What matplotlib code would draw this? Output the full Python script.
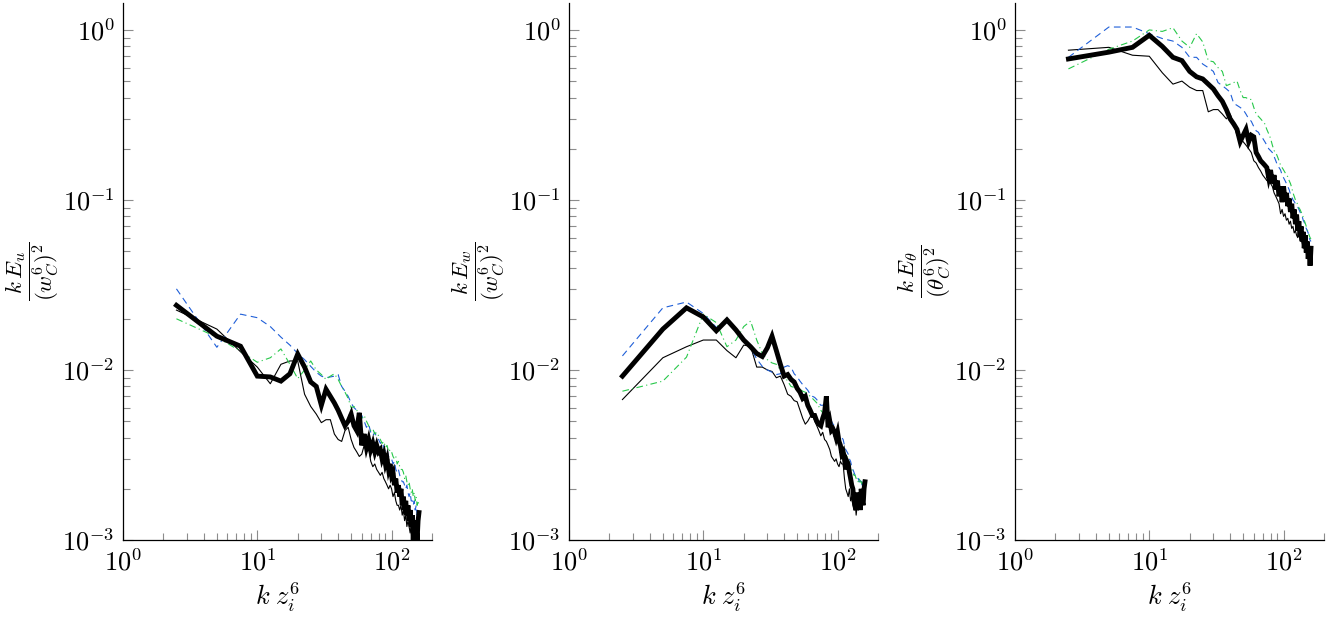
import matplotlib
matplotlib.use("Agg")
import matplotlib.pyplot as plt
import matplotlib.ticker as ticker
import numpy as np

plt.rcParams['mathtext.fontset'] = 'cm'
plt.rcParams['font.family'] = ['DejaVu Serif']

# wavenumber grid k z_i = 2.5, 5, ..., 160
k = 2.5 * np.arange(1, 65)

# panel 1 : k E_u / (w_C)^2
u_thick = [0.024, 0.0158, 0.0138, 0.0092, 0.0091, 0.0086, 0.0095, 0.0124, 0.0104, 0.0085,
           0.0080, 0.0062, 0.0077, 0.0070, 0.0064, 0.0058, 0.0052, 0.0047, 0.0050, 0.0055,
           0.0047, 0.0044, 0.0056, 0.0036, 0.0042, 0.0035, 0.0039, 0.0034, 0.0037, 0.0033,
           0.0036, 0.0033, 0.0034, 0.0030, 0.0032, 0.0028, 0.0030, 0.0026, 0.0028, 0.0024,
           0.0025, 0.0021, 0.0023, 0.0019, 0.0021, 0.0018, 0.0020, 0.0016, 0.0018, 0.0015,
           0.0017, 0.0014, 0.0016, 0.0013, 0.0015, 0.0012, 0.0014, 0.0010, 0.0013, 0.00095,
           0.0012, 0.0010, 0.0013, 0.00145]
u_thin = [0.0225, 0.0174, 0.0128, 0.0104, 0.0083, 0.0108, 0.0113, 0.0113, 0.0072, 0.0061,
          0.0055, 0.0049, 0.0051, 0.0051, 0.0042, 0.0039, 0.0038, 0.0044, 0.0046, 0.0039,
          0.0035, 0.0033, 0.0031, 0.0032, 0.0036, 0.0033, 0.0034, 0.0029, 0.0027, 0.0028,
          0.0026, 0.0025, 0.0024, 0.0025, 0.0023, 0.0022, 0.0021, 0.0020, 0.0021, 0.0020,
          0.0018, 0.0019, 0.0017, 0.0016, 0.0016, 0.0015, 0.0016, 0.0014, 0.0015, 0.0013,
          0.0014, 0.0012, 0.0013, 0.0012, 0.0011, 0.0012, 0.0010, 0.0011, 0.00095, 0.0011,
          0.0010, 0.0009, 0.00105, 0.00095]
u_blue = [0.030, 0.0136, 0.0213, 0.0203, 0.0180, 0.0156, 0.0140, 0.0125, 0.0115, 0.0105,
          0.0097, 0.0092, 0.0090, 0.0091, 0.0092, 0.0094, 0.0080, 0.0075, 0.0070, 0.0064,
          0.0060, 0.0058, 0.0056, 0.0054, 0.0050, 0.0046, 0.0048, 0.0043, 0.0041, 0.0043,
          0.0040, 0.0039, 0.0037, 0.0038, 0.0035, 0.0033, 0.0034, 0.0031, 0.0030, 0.0030,
          0.0028, 0.0029, 0.0026, 0.0025, 0.0026, 0.0024, 0.0023, 0.0022, 0.0022, 0.0021,
          0.0020, 0.0021, 0.0019, 0.0018, 0.0019, 0.0017, 0.0017, 0.0016, 0.0017, 0.0015,
          0.0016, 0.0014, 0.0015, 0.0014]
u_green = [0.020, 0.0156, 0.0129, 0.0111, 0.0118, 0.0133, 0.0108, 0.0089, 0.0100, 0.0113,
           0.0100, 0.0094, 0.0088, 0.0092, 0.0095, 0.0088, 0.0080, 0.0074, 0.0068, 0.0060,
           0.0061, 0.0058, 0.0055, 0.0052, 0.0054, 0.0050, 0.0047, 0.0044, 0.0045, 0.0042,
           0.0043, 0.0041, 0.0039, 0.0037, 0.0038, 0.0035, 0.0036, 0.0033, 0.0034, 0.0033,
           0.0031, 0.0030, 0.0031, 0.0028, 0.0029, 0.0027, 0.0026, 0.0026, 0.0025, 0.0023,
           0.0024, 0.0022, 0.0021, 0.0022, 0.0020, 0.0019, 0.0020, 0.0018, 0.0019, 0.0017,
           0.0018, 0.0016, 0.0017, 0.0016]

# panel 2 : k E_w / (w_C)^2
w_thick = [0.0092, 0.0174, 0.0232, 0.0205, 0.0170, 0.0197, 0.0172, 0.0150, 0.0137, 0.0125,
           0.0120, 0.0135, 0.0158, 0.0130, 0.0108, 0.0092, 0.0094, 0.0088, 0.0085, 0.0078,
           0.0074, 0.0068, 0.0070, 0.0062, 0.0058, 0.0054, 0.0054, 0.0050, 0.0048, 0.0047,
           0.0052, 0.0056, 0.0070, 0.0046, 0.0050, 0.0044, 0.0045, 0.0043, 0.0040, 0.0043,
           0.0038, 0.0036, 0.0032, 0.0033, 0.0030, 0.0026, 0.0029, 0.0028, 0.0025, 0.0023,
           0.0021, 0.0020, 0.0017, 0.0016, 0.0015, 0.0019, 0.0016, 0.0018, 0.0015, 0.0020,
           0.0017, 0.0016, 0.0020, 0.0022]
w_thin = [0.0067, 0.0118, 0.0137, 0.0150, 0.0150, 0.0130, 0.0118, 0.0140, 0.0138, 0.0104,
          0.0104, 0.0100, 0.0098, 0.0090, 0.0092, 0.0082, 0.0072, 0.0070, 0.0066, 0.0065,
          0.0058, 0.0052, 0.0048, 0.0050, 0.0053, 0.0054, 0.0050, 0.0047, 0.0044, 0.0041,
          0.0043, 0.0039, 0.0038, 0.0036, 0.0034, 0.0031, 0.0030, 0.0029, 0.0030, 0.0028,
          0.0027, 0.0029, 0.0028, 0.0028, 0.0023, 0.0020, 0.0019, 0.0018, 0.0020, 0.0017,
          0.0018, 0.0016, 0.0015, 0.0017, 0.0014, 0.0016, 0.0015, 0.0017, 0.0016, 0.0018,
          0.0016, 0.0019, 0.0017, 0.0020]
w_blue = [0.0121, 0.0232, 0.0251, 0.0215, 0.0178, 0.0190, 0.0170, 0.0152, 0.0135, 0.0116,
          0.0105, 0.0100, 0.0097, 0.0094, 0.0095, 0.0104, 0.0106, 0.0104, 0.0095, 0.0091,
          0.0086, 0.0082, 0.0079, 0.0076, 0.0072, 0.0070, 0.0069, 0.0067, 0.0064, 0.0062,
          0.0062, 0.0063, 0.0058, 0.0055, 0.0052, 0.0050, 0.0048, 0.0047, 0.0045, 0.0043,
          0.0042, 0.0041, 0.0040, 0.0039, 0.0036, 0.0034, 0.0033, 0.0032, 0.0030, 0.0029,
          0.0027, 0.0026, 0.0025, 0.0024, 0.0024, 0.0023, 0.0023, 0.0022, 0.0022, 0.0023,
          0.0021, 0.0022, 0.0020, 0.0021]
w_green = [0.0075, 0.0086, 0.0119, 0.0213, 0.0190, 0.0137, 0.0150, 0.0180, 0.0194, 0.0150,
           0.0125, 0.0115, 0.0110, 0.0108, 0.0100, 0.0092, 0.0086, 0.0080, 0.0079, 0.0078,
           0.0077, 0.0075, 0.0074, 0.0072, 0.0070, 0.0068, 0.0066, 0.0064, 0.0061, 0.0058,
           0.0056, 0.0054, 0.0052, 0.0050, 0.0049, 0.0048, 0.0046, 0.0045, 0.0043, 0.0041,
           0.0039, 0.0038, 0.0036, 0.0035, 0.0033, 0.0032, 0.0031, 0.0030, 0.0028, 0.0027,
           0.0026, 0.0025, 0.0024, 0.0024, 0.0023, 0.0023, 0.0022, 0.0023, 0.0022, 0.0022,
           0.0021, 0.0022, 0.0021, 0.0021]

# panel 3 : k E_theta / (theta_C)^2
t_thick = [0.675, 0.74, 0.79, 0.93, 0.80, 0.69, 0.66, 0.57, 0.53, 0.515,
           0.48, 0.45, 0.41, 0.38, 0.34, 0.30, 0.28, 0.26, 0.22, 0.24,
           0.26, 0.22, 0.24, 0.235, 0.19, 0.18, 0.17, 0.165, 0.16, 0.155,
           0.135, 0.15, 0.125, 0.14, 0.115, 0.13, 0.105, 0.12, 0.097, 0.12,
           0.10, 0.11, 0.092, 0.102, 0.085, 0.095, 0.078, 0.088, 0.072, 0.082,
           0.066, 0.075, 0.061, 0.070, 0.057, 0.065, 0.052, 0.062, 0.049, 0.057,
           0.045, 0.053, 0.041, 0.052]
t_thin = [0.76, 0.79, 0.71, 0.70, 0.56, 0.48, 0.50, 0.46, 0.44, 0.44,
          0.33, 0.34, 0.34, 0.32, 0.30, 0.32, 0.28, 0.24, 0.235, 0.22,
          0.21, 0.20, 0.19, 0.17, 0.165, 0.155, 0.148, 0.14, 0.135, 0.13,
          0.135, 0.125, 0.12, 0.11, 0.105, 0.10, 0.095, 0.083, 0.088, 0.08,
          0.083, 0.076, 0.078, 0.072, 0.075, 0.068, 0.070, 0.064, 0.066, 0.062,
          0.060, 0.063, 0.058, 0.060, 0.056, 0.054, 0.057, 0.052, 0.054, 0.050,
          0.052, 0.048, 0.050, 0.047]
t_blue = [0.69, 1.04, 1.04, 0.95, 0.89, 0.86, 0.79, 0.69, 0.69, 0.63,
          0.60, 0.57, 0.49, 0.47, 0.45, 0.43, 0.37, 0.36, 0.35, 0.34,
          0.32, 0.30, 0.29, 0.27, 0.255, 0.25, 0.235, 0.23, 0.22, 0.21,
          0.20, 0.195, 0.19, 0.18, 0.17, 0.16, 0.155, 0.15, 0.14, 0.135,
          0.13, 0.125, 0.12, 0.115, 0.108, 0.105, 0.10, 0.098, 0.095, 0.093,
          0.091, 0.088, 0.085, 0.082, 0.080, 0.076, 0.074, 0.070, 0.068, 0.066,
          0.064, 0.060, 0.058, 0.057]
t_green = [0.59, 0.77, 0.86, 1.00, 0.98, 1.03, 0.86, 0.79, 0.95, 0.85,
           0.66, 0.65, 0.60, 0.57, 0.47, 0.48, 0.49, 0.50, 0.44, 0.40,
           0.40, 0.39, 0.39, 0.35, 0.32, 0.31, 0.30, 0.29, 0.28, 0.26,
           0.245, 0.23, 0.21, 0.195, 0.19, 0.18, 0.17, 0.16, 0.155, 0.15,
           0.145, 0.14, 0.137, 0.13, 0.125, 0.118, 0.11, 0.105, 0.10, 0.097,
           0.094, 0.09, 0.088, 0.085, 0.083, 0.079, 0.076, 0.073, 0.070, 0.067,
           0.065, 0.062, 0.060, 0.059]

ylabels = [r'$\dfrac{k\,E_u}{(w^6_C)^2}$',
           r'$\dfrac{k\,E_w}{(w^6_C)^2}$',
           r'$\dfrac{k\,E_\theta}{(\theta^6_C)^2}$']
panels = [(u_thin, u_blue, u_green, u_thick),
          (w_thin, w_blue, w_green, w_thick),
          (t_thin, t_blue, t_green, t_thick)]

BLUE = '#1f5fd8'
GREEN = '#27c84a'

fig = plt.figure(figsize=(13.33, 6.35), dpi=100)
lefts = [123, 569, 1015]
W, H = 1333.0, 635.0

for i in range(3):
    ax = fig.add_axes([lefts[i] / W, 95 / H, 309 / W, 537 / H])
    thin, blue, green, thick = panels[i]
    ax.plot(k, thin, color='black', lw=0.8)
    ax.plot(k, blue, color=BLUE, lw=0.8, dashes=(6, 4))
    ax.plot(k, green, color=GREEN, lw=0.8, dashes=(6, 3, 1, 3))
    ax.plot(k, thick, color='black', lw=3.5, solid_joinstyle='miter')
    ax.set_xscale('log')
    ax.set_yscale('log')
    ax.set_xlim(1, 200)
    ax.set_ylim(1e-3, 1.44)
    ax.spines['top'].set_visible(False)
    ax.spines['right'].set_visible(False)
    ax.spines['left'].set_linewidth(0.9)
    ax.spines['bottom'].set_linewidth(0.9)
    fmt = ticker.FuncFormatter(lambda v, p: r'$10^{%d}$' % int(round(np.log10(v))))
    ax.xaxis.set_major_locator(ticker.LogLocator(base=10, numticks=10))
    ax.yaxis.set_major_locator(ticker.LogLocator(base=10, numticks=10))
    ax.xaxis.set_minor_locator(ticker.LogLocator(base=10, subs=np.arange(2, 10), numticks=20))
    ax.yaxis.set_minor_locator(ticker.LogLocator(base=10, subs=np.arange(2, 10), numticks=20))
    ax.xaxis.set_major_formatter(fmt)
    ax.yaxis.set_major_formatter(fmt)
    ax.xaxis.set_minor_formatter(ticker.NullFormatter())
    ax.yaxis.set_minor_formatter(ticker.NullFormatter())
    ax.tick_params(which='major', direction='in', length=7.5, width=0.8, color='#8c8c8c',
                   labelsize=19, pad=6)
    ax.tick_params(which='minor', direction='in', length=5, width=0.8, color='#8c8c8c')
    ax.set_xlabel(r'$k\;z_i^6$', fontsize=19, labelpad=4)
    ax.set_ylabel(ylabels[i], fontsize=16.5, labelpad=2)

plt.savefig('out.png', dpi=100)
